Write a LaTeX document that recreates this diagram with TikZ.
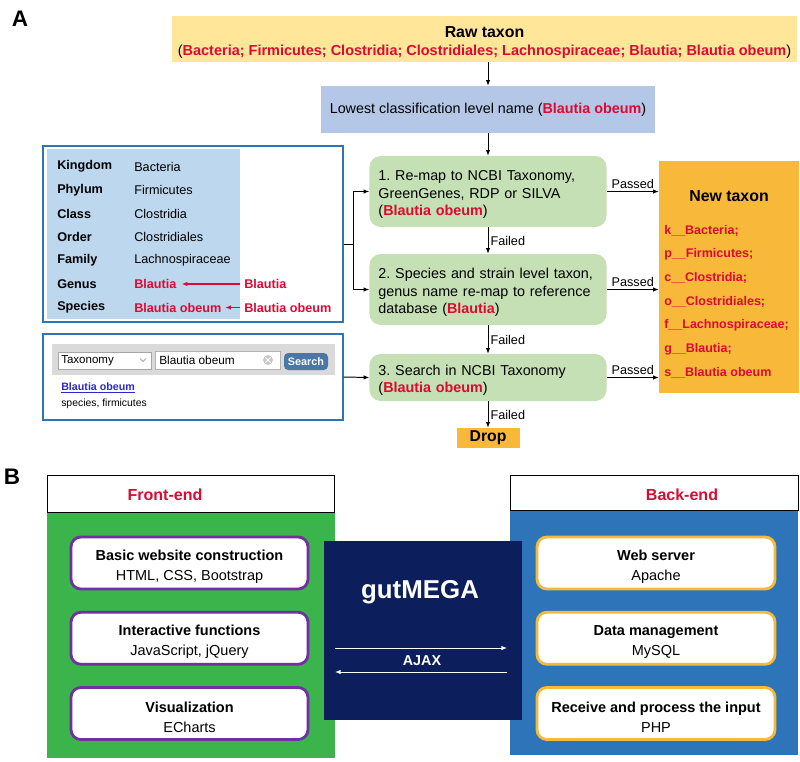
\documentclass[tikz,border=0pt]{standalone}
\usepackage{fontspec}
\setmainfont{Liberation Sans}
\usetikzlibrary{arrows.meta, positioning}

\definecolor{rawyellow}{HTML}{FFE699}
\definecolor{lowblue}{HTML}{B4C7E7}
\definecolor{stepgreen}{HTML}{C5E0B4}
\definecolor{taxgold}{HTML}{F8B93B}
\definecolor{taxred}{HTML}{DC0A32}
\definecolor{tabblue}{HTML}{BDD7EE}
\definecolor{boxblue}{HTML}{2E75B6}
\definecolor{bargray}{HTML}{DADADA}
\definecolor{btnblue}{HTML}{4A77A6}
\definecolor{linkblue}{HTML}{2A2ACC}
\definecolor{panelgreen}{HTML}{3BB44B}
\definecolor{panelblue}{HTML}{2E74B8}
\definecolor{navy}{HTML}{0C1F5C}
\definecolor{featpurple}{HTML}{7030A0}
\definecolor{featgold}{HTML}{F6BA3A}

\newcommand{\fsz}[2]{\fontsize{#1}{#2}\selectfont}
\newcommand{\redb}[1]{\textcolor{taxred}{\textbf{#1}}}
\frenchspacing

\tikzset{
  sz/.style 2 args={minimum width=#1*0.025cm, minimum height=#2*0.025cm, inner sep=0pt},
  stepbox/.style={fill=stepgreen, rounded corners=8pt, align=left, inner xsep=0.225cm,
    text width=5.475cm, font=\fsz{10.2}{12.4}},
  arr/.style={->, line width=0.7pt},
  redarr/.style={->, line width=0.8pt, taxred},
  lbl/.style={font=\fsz{9}{10}, inner sep=1.5pt},
  rankname/.style={anchor=west, inner sep=0pt, font=\fsz{9}{10}\bfseries},
  rankval/.style={anchor=west, inner sep=0pt, font=\fsz{9}{10}},
  panellabel/.style={font=\fsz{16}{18}\bfseries},
  headtitle/.style={text=taxred, font=\fsz{11.4}{13}\bfseries},
  featbox/.style={fill=white, line width=2pt, rounded corners=7pt, align=center, font=\fsz{10.3}{14.2}},
  widget/.style={font=\fsz{8}{9}, inner sep=0pt, anchor=west}
}

\begin{document}
\begin{tikzpicture}[x=0.025cm, y=-0.025cm, >={Latex[length=4pt,width=3.2pt]}]
  \useasboundingbox (0,0) rectangle (800,761);

  % Panel labels
  \node[panellabel] (labA) at (20,19) {A};
  \node[panellabel] (labB) at (12,477) {B};

  % Raw taxon and lowest level name
  \node[sz={625}{46}, fill=rawyellow, align=center, font=\fsz{10.3}{12.8}] (rawtaxon) at (484.5,39)
    {\rule{0pt}{13pt}{\fontsize{11.3}{12.8}\selectfont\textbf{Raw taxon}}\\(\redb{Bacteria; Firmicutes; Clostridia; Clostridiales; Lachnospiraceae; Blautia; Blautia obeum})};
  \node[sz={334}{47}, fill=lowblue, font=\fsz{10.2}{12.4}] (lowest) at (488,109.5)
    {Lowest classification level name (\redb{Blautia obeum})};

  % Re-map steps
  \node[sz={237}{71}, stepbox] (step1) at (488,191.5) {\rule{0pt}{11.5pt}1. Re-map to NCBI Taxonomy,\\GreenGenes, RDP or SILVA\\(\redb{Blautia obeum})};
  \node[sz={237}{71}, stepbox] (step2) at (488,289.5) {\rule{0pt}{11.5pt}2. Species and strain level taxon,\\genus name re-map to reference\\database (\redb{Blautia})};
  \node[sz={237}{47}, stepbox] (step3) at (488,377.5) {\rule{0pt}{11.5pt}3. Search in NCBI Taxonomy\\(\redb{Blautia obeum})};
  \node[sz={63}{20}, fill=taxgold, font=\fsz{11.2}{13}\bfseries] (drop) at (488,438) {Drop};

  % New taxon
  \node[sz={140}{232}, fill=taxgold] (newtaxon) at (729,277) {};
  \node[font=\fsz{11.3}{13}\bfseries] (newtitle) at (729,196) {New taxon};
  \foreach \r/\n [count=\i from 0] in {k/Bacteria;, p/Firmicutes;, c/Clostridia;, o/Clostridiales;, f/Lachnospiraceae;, g/Blautia;, s/Blautia obeum}
    \node[anchor=west, inner sep=0pt, text=taxred, font=\fsz{8.9}{10}\bfseries] (item\i) at (664,231+23.6*\i) {\r\_\_\n};

  % Flow connectors
  \draw[arr] (lowest.north |- rawtaxon.south) -- (lowest.north);
  \draw[arr] (lowest.south) -- (step1.north);
  \draw[arr] (step1.south) -- (step2.north) node[midway, right, lbl] {Failed};
  \draw[arr] (step2.south) -- (step3.north) node[midway, right, lbl] {Failed};
  \draw[arr] (step3.south) -- (drop.north) node[midway, right, lbl] {Failed};
  \foreach \s in {1,2,3}
    \draw[arr] (step\s.east) -- (step\s.east -| newtaxon.west) node[midway, above, lbl] {Passed};

  % Taxonomy table
  \node[sz={300}{176}, draw=boxblue, line width=1pt] (taxbox) at (193,234) {};
  \node[sz={193}{170}, fill=tabblue] (taxfill) at (143.5,234) {};
  \foreach \rk/\vl [count=\i from 0] in {Kingdom/Bacteria, Phylum/Firmicutes, Class/Clostridia, Order/Clostridiales, Family/Lachnospiraceae}{
    \node[rankname] (rank\i) at (57,166.5+23.5*\i) {\rk};
    \node[rankval] (val\i) at (134,166.5+23.5*\i) {\vl};
  }
  \node[rankname] (rank5) at (57,284) {Genus};
  \node[rankval, text=taxred, font=\fsz{9}{10}\bfseries] (val5) at (134,284) {Blautia};
  \node[rankname] (rank6) at (57,307.5) {Species};
  \node[rankval, text=taxred, font=\fsz{9}{10}\bfseries] (val6) at (134,307.5) {Blautia obeum};
  \node[rankval, text=taxred, font=\fsz{9}{10}\bfseries] (src5) at (244,284) {Blautia};
  \node[rankval, text=taxred, font=\fsz{9}{10}\bfseries] (src6) at (244,307.5) {Blautia obeum};
  \draw[redarr, shorten <=2.5pt, shorten >=3.5pt] (src5.west) -- (val5.east);
  \draw[redarr, shorten <=2.5pt, shorten >=2.5pt] (src6.west) -- (val6.east);

  % Bracket to steps 1 and 2
  \coordinate (brk) at (353,244);
  \draw[line width=0.7pt] (brk -| taxbox.east) -- (brk);
  \draw[arr] (brk) |- (step1.west);
  \draw[arr] (brk) |- (step2.west);

  % NCBI search widget
  \node[sz={300}{86}, draw=boxblue, line width=1pt] (searchbox) at (193,377) {};
  \node[sz={283}{31}, fill=bargray] (searchbar) at (193.5,359.5) {};
  \node[sz={93}{17}, fill=white, draw=gray!70, line width=0.4pt] (dropdown) at (104.5,360.5) {};
  \node[widget, font=\fsz{8.2}{9}] (droptext) at (61,360.5) {Taxonomy};
  \draw[gray, line width=0.4pt] (140,358.5) -- (143,361.5) -- (146,358.5);
  \node[sz={125}{18}, fill=white, draw=gray!60, line width=0.4pt] (inputbox) at (217.5,360) {};
  \node[widget, font=\fsz{8.4}{9}] (inputtext) at (159,360) {Blautia obeum};
  \fill[gray!45] (268,360) circle (3.5pt);
  \draw[white, line width=0.6pt] (265.5,357.5) -- (270.5,362.5) (265.5,362.5) -- (270.5,357.5);
  \node[sz={44}{17}, fill=btnblue, rounded corners=3pt, text=white, font=\fsz{7.7}{9}\bfseries] (searchbtn) at (306,361.5) {Search};
  \node[widget, text=linkblue, font=\fsz{7.6}{9}\bfseries] (hitname) at (61,388) {\underline{Blautia obeum}};
  \node[widget, font=\fsz{7.4}{9}] (hitinfo) at (61,404) {species, firmicutes};
  \draw[arr] (searchbox.east) -- (step3.west);

  % Front-end and back-end panels
  \node[sz={288}{246}, fill=panelgreen] (frontpanel) at (191,635) {};
  \node[sz={287}{37}, fill=white, draw=black, line width=0.7pt] (fronthead) at (190.5,493.5) {};
  \node[headtitle] (fronttitle) at (165,495) {Front-end};
  \node[sz={288}{245}, fill=panelblue] (backpanel) at (654,632.5) {};
  \node[sz={288}{35}, fill=white, draw=black, line width=0.7pt] (backhead) at (654,492.5) {};
  \node[headtitle] (backtitle) at (682,495) {Back-end};

  \foreach \t/\d [count=\i from 0] in {Basic website construction/{HTML, CSS, Bootstrap}, Interactive functions/{JavaScript, jQuery}, Visualization/ECharts}
    \node[sz={237}{52}, featbox, draw=featpurple] (front\i) at (189.5,563+75.25*\i) {\rule{0pt}{13pt}\textbf{\t}\\\d};
  \foreach \t/\d [count=\i from 0] in {Web server/Apache, Data management/MySQL, Receive and process the input/PHP}
    \node[sz={238}{52}, featbox, draw=featgold] (back\i) at (656,563+75.25*\i) {\rule{0pt}{13pt}\textbf{\t}\\\d};

  % gutMEGA core
  \node[sz={198}{179}, fill=navy] (gutmega) at (423,630.5) {};
  \node[text=white, font=\fsz{18.4}{20}\bfseries] (gutname) at (420,592) {gutMEGA};
  \node[text=white, font=\fsz{10.2}{12}\bfseries] (ajax) at (422,661) {AJAX};
  \coordinate (ajaxA) at (335,648);
  \coordinate (ajaxB) at (507,648);
  \coordinate (ajaxC) at (507,672);
  \coordinate (ajaxD) at (335,672);
  \draw[arr, white] (ajaxA) -- (ajaxB);
  \draw[arr, white] (ajaxC) -- (ajaxD);
\end{tikzpicture}
\end{document}
